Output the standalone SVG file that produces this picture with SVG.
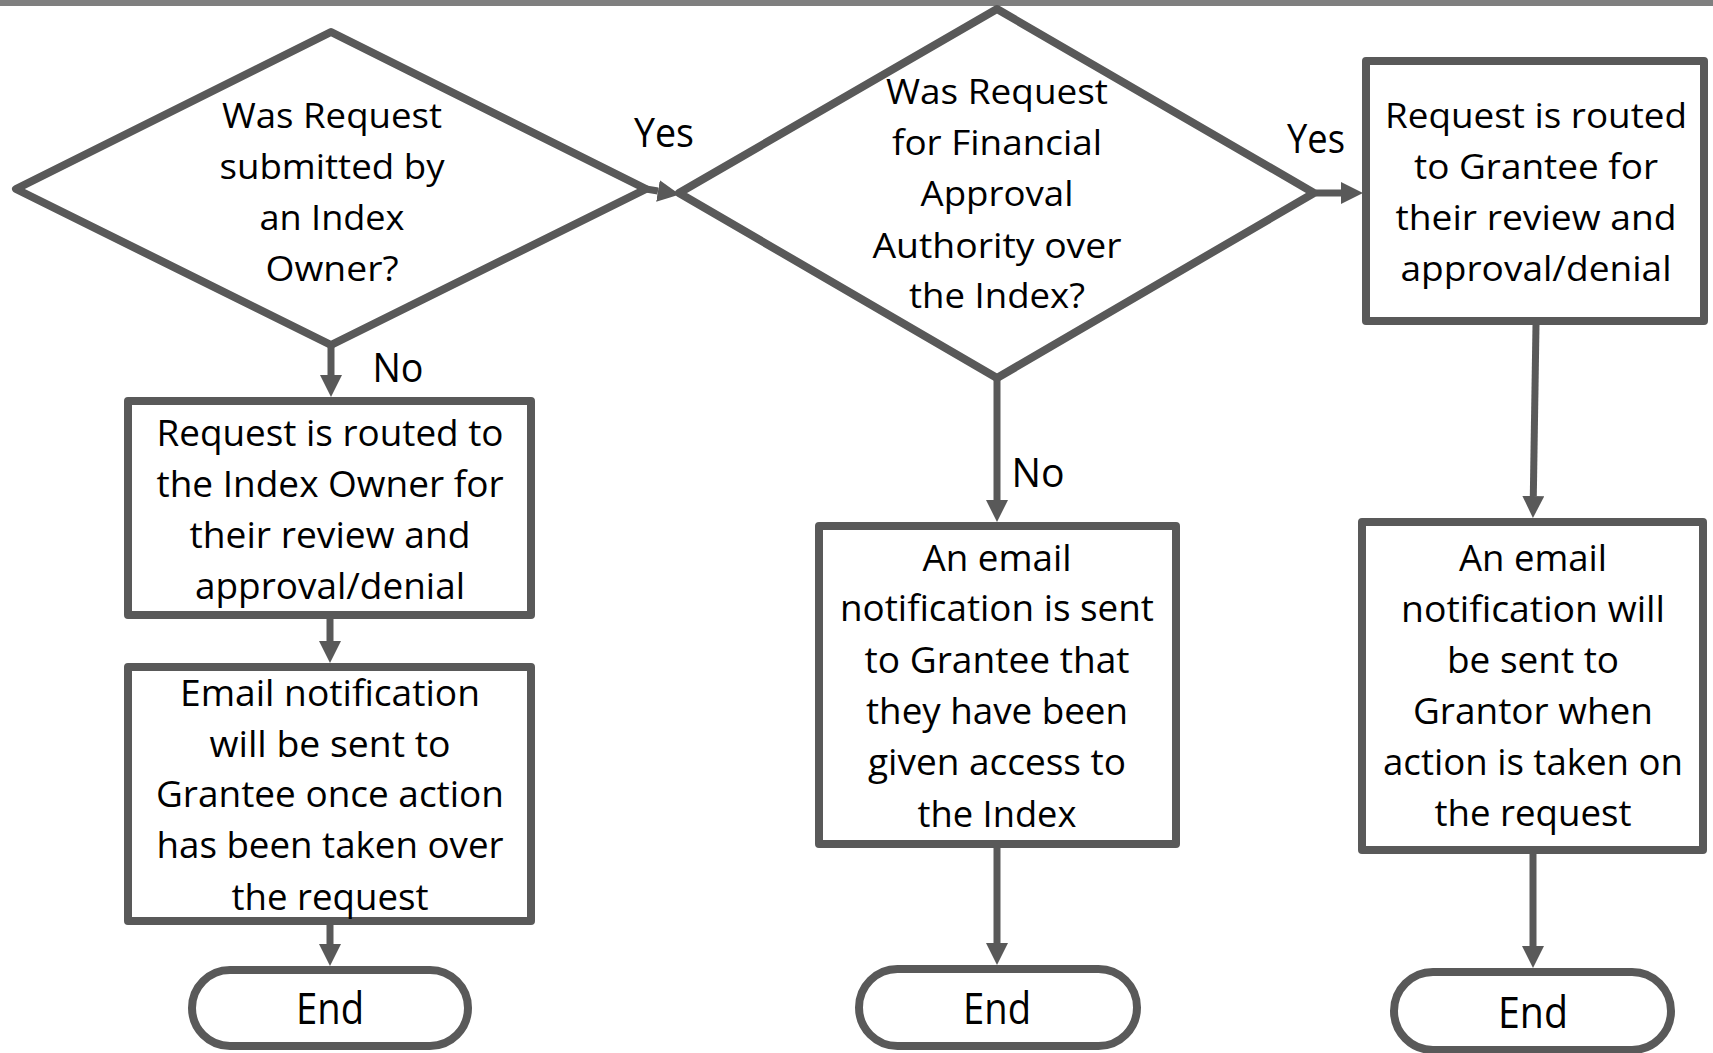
<svg xmlns="http://www.w3.org/2000/svg" width="1713" height="1053" viewBox="0 0 1713 1053">
<defs>
<style>
.shape{fill:#fff;stroke:#595959;stroke-width:8;stroke-linejoin:round}
.conn{stroke:#595959;stroke-width:7;fill:none}
.t{font-family:"Open Sans","Noto Sans","Liberation Sans",sans-serif;font-size:36px;fill:#000;text-anchor:middle}
.n{font-family:"Open Sans","Noto Sans","Liberation Sans",sans-serif;font-size:35px;fill:#000;text-anchor:middle}
.lbl{font-family:"Open Sans","Noto Sans","Liberation Sans",sans-serif;font-size:40px;fill:#000;text-anchor:middle}
.end{font-family:"Open Sans","Noto Sans","Liberation Sans",sans-serif;font-size:43px;fill:#000;text-anchor:middle}
</style>
<marker id="ah" markerUnits="userSpaceOnUse" markerWidth="24" markerHeight="24" refX="0" refY="11" orient="auto">
<path d="M0,0 L22,11 L0,22 z" fill="#595959"/>
</marker>
</defs>
<rect x="0" y="0" width="1713" height="6" fill="#7f7f7f"/>

<g id="connectors">
<line class="conn" x1="646" y1="189" x2="658" y2="191" marker-end="url(#ah)"/>
<line class="conn" x1="1316" y1="193" x2="1341" y2="193" marker-end="url(#ah)"/>
<line class="conn" x1="331" y1="345" x2="331" y2="375" marker-end="url(#ah)"/>
<line class="conn" x1="330" y1="619" x2="330" y2="641" marker-end="url(#ah)"/>
<line class="conn" x1="330" y1="925" x2="330" y2="944" marker-end="url(#ah)"/>
<line class="conn" x1="997" y1="378" x2="997" y2="500" marker-end="url(#ah)"/>
<line class="conn" x1="997" y1="848" x2="997" y2="943" marker-end="url(#ah)"/>
<line class="conn" x1="1536" y1="325" x2="1533.3" y2="496" marker-end="url(#ah)"/>
<line class="conn" x1="1533" y1="854" x2="1533" y2="946" marker-end="url(#ah)"/>
<text class="lbl" x="664" y="147" textLength="60" lengthAdjust="spacingAndGlyphs">Yes</text>
<text class="lbl" x="1316" y="153" textLength="58" lengthAdjust="spacingAndGlyphs">Yes</text>
<text class="lbl" x="398" y="382" textLength="51" lengthAdjust="spacingAndGlyphs">No</text>
<text class="lbl" x="1038" y="487" textLength="53" lengthAdjust="spacingAndGlyphs">No</text>
</g>

<g id="decision1">
<polygon class="shape" points="331,32 16,189 331,345 646,189"/>
<text class="n" x="332" y="128" textLength="220" lengthAdjust="spacingAndGlyphs">Was Request</text>
<text class="n" x="332" y="179" textLength="225" lengthAdjust="spacingAndGlyphs">submitted by</text>
<text class="n" x="332" y="230" textLength="145" lengthAdjust="spacingAndGlyphs">an Index</text>
<text class="n" x="332" y="281" textLength="133" lengthAdjust="spacingAndGlyphs">Owner?</text>
</g>

<g id="decision2">
<polygon class="shape" points="997,9 679,193 997,378 1314,193"/>
<text class="n" x="997" y="104" textLength="222" lengthAdjust="spacingAndGlyphs">Was Request</text>
<text class="n" x="997" y="155" textLength="210" lengthAdjust="spacingAndGlyphs">for Financial</text>
<text class="n" x="997" y="206" textLength="153" lengthAdjust="spacingAndGlyphs">Approval</text>
<text class="n" x="997" y="258" textLength="249" lengthAdjust="spacingAndGlyphs">Authority over</text>
<text class="n" x="997" y="308" textLength="176" lengthAdjust="spacingAndGlyphs">the Index?</text>
</g>

<g id="grantee-review">
<rect class="shape" x="1366" y="61" width="338" height="260"/>
<text class="n" x="1536" y="128" textLength="302" lengthAdjust="spacingAndGlyphs">Request is routed</text>
<text class="n" x="1536" y="179" textLength="244" lengthAdjust="spacingAndGlyphs">to Grantee for</text>
<text class="n" x="1536" y="230" textLength="281" lengthAdjust="spacingAndGlyphs">their review and</text>
<text class="n" x="1536" y="281" textLength="271" lengthAdjust="spacingAndGlyphs">approval/denial</text>
</g>

<g id="owner-review">
<rect class="shape" x="128" y="401" width="403" height="214"/>
<text class="t" x="330" y="446" textLength="347" lengthAdjust="spacingAndGlyphs">Request is routed to</text>
<text class="t" x="330" y="497" textLength="347" lengthAdjust="spacingAndGlyphs">the Index Owner for</text>
<text class="t" x="330" y="548" textLength="281" lengthAdjust="spacingAndGlyphs">their review and</text>
<text class="t" x="330" y="599" textLength="270" lengthAdjust="spacingAndGlyphs">approval/denial</text>
</g>

<g id="email-grantee-action">
<rect class="shape" x="128" y="667" width="403" height="254"/>
<text class="t" x="330" y="706" textLength="300" lengthAdjust="spacingAndGlyphs">Email notification</text>
<text class="t" x="330" y="757" textLength="241" lengthAdjust="spacingAndGlyphs">will be sent to</text>
<text class="t" x="330" y="807" textLength="348" lengthAdjust="spacingAndGlyphs">Grantee once action</text>
<text class="t" x="330" y="858" textLength="347" lengthAdjust="spacingAndGlyphs">has been taken over</text>
<text class="t" x="330" y="910" textLength="197" lengthAdjust="spacingAndGlyphs">the request</text>
</g>

<g id="email-grantee-access">
<rect class="shape" x="819" y="526" width="357" height="318"/>
<text class="t" x="997" y="571" textLength="149" lengthAdjust="spacingAndGlyphs">An email</text>
<text class="t" x="997" y="621" textLength="314" lengthAdjust="spacingAndGlyphs">notification is sent</text>
<text class="t" x="997" y="673" textLength="265" lengthAdjust="spacingAndGlyphs">to Grantee that</text>
<text class="t" x="997" y="724" textLength="262" lengthAdjust="spacingAndGlyphs">they have been</text>
<text class="t" x="997" y="775" textLength="258" lengthAdjust="spacingAndGlyphs">given access to</text>
<text class="t" x="997" y="827" textLength="159" lengthAdjust="spacingAndGlyphs">the Index</text>
</g>

<g id="email-grantor">
<rect class="shape" x="1362" y="522" width="341" height="328"/>
<text class="t" x="1533" y="571" textLength="148" lengthAdjust="spacingAndGlyphs">An email</text>
<text class="t" x="1533" y="622" textLength="264" lengthAdjust="spacingAndGlyphs">notification will</text>
<text class="t" x="1533" y="673" textLength="172" lengthAdjust="spacingAndGlyphs">be sent to</text>
<text class="t" x="1533" y="724" textLength="240" lengthAdjust="spacingAndGlyphs">Grantor when</text>
<text class="t" x="1533" y="775" textLength="300" lengthAdjust="spacingAndGlyphs">action is taken on</text>
<text class="t" x="1533" y="826" textLength="197" lengthAdjust="spacingAndGlyphs">the request</text>
</g>

<g id="end1">
<rect class="shape" x="192" y="970" width="276" height="76" rx="38"/>
<text class="end" x="330" y="1024" textLength="68" lengthAdjust="spacingAndGlyphs">End</text>
</g>
<g id="end2">
<rect class="shape" x="859" y="969" width="278" height="77" rx="38.5"/>
<text class="end" x="997" y="1024" textLength="68" lengthAdjust="spacingAndGlyphs">End</text>
</g>
<g id="end3">
<rect class="shape" x="1394" y="972" width="277" height="78" rx="39"/>
<text class="end" x="1533" y="1028" textLength="70" lengthAdjust="spacingAndGlyphs">End</text>
</g>
</svg>
